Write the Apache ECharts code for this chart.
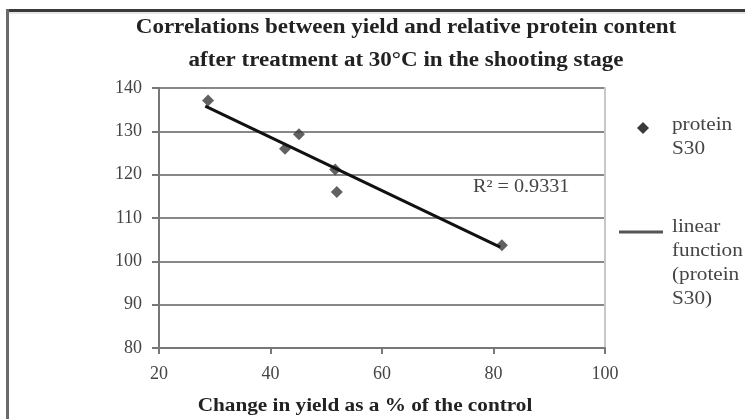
<!DOCTYPE html>
<html>
<head>
<meta charset="utf-8">
<script src="https://cdn.jsdelivr.net/npm/echarts@6/dist/echarts.min.js"></script>
<style>html,body{margin:0;padding:0;background:#fff;}#c{width:745px;height:419px;}</style>
</head>
<body>
<div id="c"></div>
<script>
// Data
const yieldChange = [28.8, 42.6, 45.1, 51.6, 51.9, 81.5];
const proteinS30 = [137.1, 126.0, 129.3, 121.2, 116.0, 103.7];
// Trend line endpoints as drawn in the reference
const trendX = [28.3, 81.2];
const trendY = [135.8, 103.3];
const titleLines = ['Correlations between yield and relative protein content', 'after treatment at 30\u00B0C in the shooting stage'];
const xAxisName = 'Change in yield as a % of the control';
const r2Label = 'R\u00B2 = 0.9331';
const legendPoint = ['protein', 'S30'];
const legendLine = ['linear', 'function', '(protein', 'S30)'];

const FONT = '"Liberation Serif", "Times New Roman", serif';
const chart = echarts.init(document.getElementById('c'), null, {renderer: 'canvas'});

const scatterData = yieldChange.map((x, i) => [x, proteinS30[i]]);
const trendData = trendX.map((x, i) => [x, trendY[i]]);

chart.setOption({
  animation: false,
  backgroundColor: '#fff',
  textStyle: {fontFamily: FONT},
  grid: {left: 159, right: 140, top: 88, bottom: 71, containLabel: false},
  xAxis: {
    type: 'value', min: 20, max: 100, interval: 20,
    axisLine: {show: true, onZero: false, lineStyle: {color: '#777', width: 2}},
    axisTick: {show: true, length: 6, lineStyle: {color: '#777', width: 2}},
    axisLabel: {color: '#444', fontSize: 18, fontFamily: FONT, margin: 17},
    splitLine: {show: false}
  },
  yAxis: [{
    type: 'value', min: 80, max: 140, interval: 10,
    axisLine: {show: true, lineStyle: {color: '#777', width: 2}},
    axisTick: {show: true, length: 7, lineStyle: {color: '#777', width: 2}},
    axisLabel: {color: '#444', fontSize: 18, fontFamily: FONT, margin: 17},
    splitLine: {show: true, lineStyle: {color: '#888', width: 2}}
  }, {
    type: 'value', min: 80, max: 140, interval: 10, position: 'right',
    axisLine: {show: true, lineStyle: {color: '#c8c8c8', width: 2}},
    axisTick: {show: false}, axisLabel: {show: false}, splitLine: {show: false}
  }],
  series: [{
    name: 'protein S30', type: 'scatter', symbol: 'diamond', symbolSize: 12,
    itemStyle: {color: '#3a3a3a'}, data: scatterData, z: 3
  }, {
    name: 'linear function (protein S30)', type: 'line', symbol: 'none',
    lineStyle: {color: '#111', width: 3}, data: trendData, z: 4
  }],
  graphic: [
    {type: 'rect', shape: {x: 6, y: 9, width: 745, height: 3}, style: {fill: '#3a3a3a'}, silent: true},
    {type: 'rect', shape: {x: 6, y: 12, width: 745, height: 2}, style: {fill: '#e6e6e6'}, silent: true},
    {type: 'rect', shape: {x: 6, y: 9, width: 3, height: 420}, style: {fill: '#6a6a6a'}, silent: true},
    {type: 'text', x: 406, y: 28, scaleX: 1.15, style: {text: titleLines[0], font: 'bold 20px ' + FONT, fill: '#222', align: 'center', verticalAlign: 'middle'}},
    {type: 'text', x: 406, y: 61, scaleX: 1.15, style: {text: titleLines[1], font: 'bold 20px ' + FONT, fill: '#222', align: 'center', verticalAlign: 'middle'}},
    {type: 'text', x: 365, y: 406, scaleX: 1.18, style: {text: xAxisName, font: 'bold 18px ' + FONT, fill: '#222', align: 'center', verticalAlign: 'middle'}},
    {type: 'text', x: 473, y: 187, scaleX: 1.12, style: {text: r2Label, font: '18px ' + FONT, fill: '#444', align: 'left', verticalAlign: 'middle'}},
    {type: 'polygon', shape: {points: [[643, 122], [649, 128], [643, 134], [637, 128]]}, style: {fill: '#3a3a3a'}},
    {type: 'text', x: 672, y: 113, scaleX: 1.18, style: {text: legendPoint.join('\n'), font: '18px ' + FONT, lineHeight: 24, fill: '#444', align: 'left', verticalAlign: 'top'}},
    {type: 'line', shape: {x1: 619, y1: 232, x2: 663, y2: 232}, style: {stroke: '#555', lineWidth: 3}},
    {type: 'text', x: 672, y: 215, scaleX: 1.18, style: {text: legendLine.join('\n'), font: '18px ' + FONT, lineHeight: 24, fill: '#444', align: 'left', verticalAlign: 'top'}}
  ]
});
</script>
</body>
</html>
